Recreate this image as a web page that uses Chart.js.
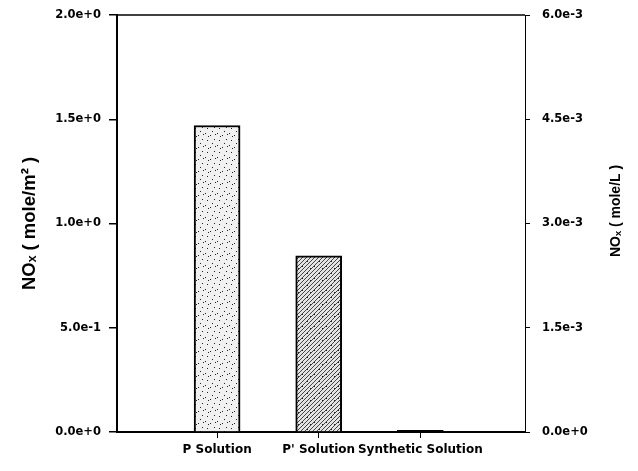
<!DOCTYPE html>
<html><head><meta charset="utf-8">
<script src="https://cdn.jsdelivr.net/npm/chart.js@4/dist/chart.umd.min.js"></script>
<style>html,body{margin:0;padding:0;background:#fff}#wrap{width:638px;height:471px}</style>
</head><body><div id="wrap"><canvas id="c" width="638" height="471"></canvas></div>
<script>
const categories = ['P Solution', "P' Solution", 'Synthetic Solution'];
const categoryPositions = [1, 2, 3];
const noxPerArea = [1.47, 0.845, 0.008];
const leftTickValues = [0, 0.5, 1.0, 1.5, 2.0];
const rightTickValues = [0, 0.0015, 0.003, 0.0045, 0.006];
const leftTitle = 'NOₓ ( mole/m² )';
const rightTitle = 'NOₓ ( mole/L )';

function makePattern(bg, kind) {
  const p = document.createElement('canvas');
  p.width = 12; p.height = 12;
  const g = p.getContext('2d');
  g.fillStyle = bg; g.fillRect(0, 0, 12, 12);
  g.fillStyle = '#222';
  if (kind === 'dots') {
    [[1,1],[6,3],[10,7],[3,8],[8,11],[4,4],[11,2]].forEach(([x,y]) => g.fillRect(x, y, 1, 1));
  } else {
    g.strokeStyle = '#444'; g.lineWidth = 1;
    for (let k = -12; k <= 12; k += 4) { g.beginPath(); g.moveTo(k, 12); g.lineTo(k + 12, 0); g.stroke(); }
    [[2,2],[7,9],[10,4]].forEach(([x,y]) => g.fillRect(x, y, 1, 1));
  }
  return document.getElementById('c').getContext('2d').createPattern(p, 'repeat');
}
const fills = [makePattern('#f0f0f0', 'dots'), makePattern('#e4e4e4', 'hatch'), '#000'];

const fmt = v => Number(v).toExponential(1);
const tickFont = { family: 'DejaVu Sans, sans-serif', size: 11.5, weight: 'bold' };
const xFont = { family: 'DejaVu Sans, sans-serif', size: 12, weight: 'bold' };

const frame = {
  id: 'frame',
  afterDatasetsDraw(chart) {
    const { ctx, chartArea: a } = chart;
    ctx.save();
    ctx.strokeStyle = '#000'; ctx.lineWidth = 1.5;
    ctx.beginPath(); ctx.moveTo(a.left, a.top); ctx.lineTo(a.right, a.top); ctx.stroke();
    ctx.translate(616, 211);
    ctx.rotate(-Math.PI / 2);
    ctx.fillStyle = '#000';
    ctx.font = 'bold 14px "Liberation Sans", Arial, sans-serif';
    ctx.textAlign = 'center'; ctx.textBaseline = 'middle';
    ctx.fillText(rightTitle, 0, 0);
    ctx.restore();
  }
};

new Chart(document.getElementById('c'), {
  type: 'bar',
  data: {
    datasets: [{
      data: categoryPositions.map((x, i) => ({ x, y: noxPerArea[i] })),
      backgroundColor: fills,
      borderColor: '#000',
      borderWidth: 2,
      barThickness: 46,
      yAxisID: 'y'
    }]
  },
  options: {
    responsive: false, animation: false,
    layout: { padding: { top: 15, bottom: 0, left: 0, right: 0 } },
    plugins: { legend: { display: false }, tooltip: { enabled: false } },
    scales: {
      x: {
        type: 'linear', min: 0.015, max: 4.03, offset: false,
        afterBuildTicks: s => { s.ticks = categoryPositions.map(v => ({ value: v })); },
        ticks: { callback: (v) => categories[categoryPositions.indexOf(v)] || '', color: '#000', font: xFont, padding: 5, maxRotation: 0, autoSkip: false },
        grid: { offset: false, drawOnChartArea: false, drawTicks: true, tickLength: 6, color: '#000', lineWidth: 1 },
        border: { color: '#000', width: 2 },
        afterFit: s => { s.height = 39; s.paddingLeft = 0; s.paddingRight = 0; }
      },
      y: {
        position: 'left', min: 0, max: 2.0,
        afterBuildTicks: s => { s.ticks = leftTickValues.map(v => ({ value: v })); },
        ticks: { callback: fmt, color: '#000', font: tickFont, padding: 8 },
        grid: { drawOnChartArea: false, drawTicks: true, tickLength: 8, color: '#000', lineWidth: 1.5 },
        border: { color: '#000', width: 2 },
        title: { display: true, text: leftTitle, color: '#000', font: { family: 'Liberation Sans, Arial, sans-serif', size: 18.5, weight: 'bold' }, padding: { top: 19, bottom: 0 } },
        afterFit: s => { s.width = 117; s.paddingTop = 0; s.paddingBottom = 0; }
      },
      y2: {
        position: 'right', min: 0, max: 0.006,
        afterBuildTicks: s => { s.ticks = rightTickValues.map(v => ({ value: v })); },
        ticks: { callback: fmt, color: '#000', font: tickFont, padding: 12 },
        grid: { drawOnChartArea: false, drawTicks: true, tickLength: 5, color: '#000', lineWidth: 1 },
        border: { color: '#000', width: 1 },
        afterFit: s => { s.width = 113; s.paddingTop = 0; s.paddingBottom = 0; }
      }
    }
  },
  plugins: [frame]
});
</script>
</body></html>
